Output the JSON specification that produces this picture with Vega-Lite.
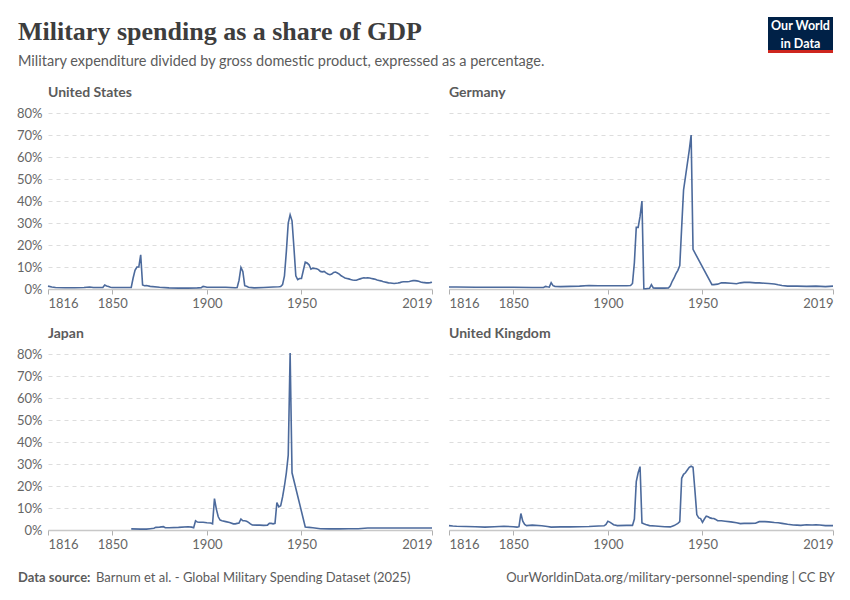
{
  "$schema": "https://vega.github.io/schema/vega-lite/v6.json",
  "background": "white",
  "padding": {"left": 16, "top": 16, "right": 10, "bottom": 5},
  "config": {
    "font": "Lato",
    "view": {"stroke": null},
    "title": {"anchor": "start", "frame": "group", "font": "Lato", "fontSize": 14, "fontWeight": "bold", "color": "#5b5b5b", "offset": 7},
    "axis": {"labelFont": "Lato", "labelFontSize": 13, "labelColor": "#666666", "title": null},
    "axisX": {"domainColor": "#c8c8c8", "domainWidth": 1.5, "tickColor": "#b0b0b0", "tickSize": 5, "labelPadding": 3, "grid": false},
    "axisY": {"domain": false, "ticks": false, "labelPadding": 6, "gridColor": "#dddddd", "gridDash": [4, 4], "gridWidth": 1}
  },
  "datasets": {
    "us": [
      {"year": 1816, "share": 1.3}, {"year": 1818, "share": 0.9}, {"year": 1820, "share": 0.7}, {"year": 1825, "share": 0.6},
      {"year": 1830, "share": 0.6}, {"year": 1835, "share": 0.7}, {"year": 1838, "share": 0.9}, {"year": 1840, "share": 0.7},
      {"year": 1845, "share": 0.7}, {"year": 1846, "share": 1.8}, {"year": 1847, "share": 1.4}, {"year": 1848, "share": 1.1},
      {"year": 1849, "share": 0.8}, {"year": 1850, "share": 0.7}, {"year": 1855, "share": 0.7}, {"year": 1860, "share": 0.7},
      {"year": 1861, "share": 5}, {"year": 1862, "share": 8.5}, {"year": 1863, "share": 10}, {"year": 1864, "share": 10},
      {"year": 1865, "share": 15.5}, {"year": 1866, "share": 1.8}, {"year": 1867, "share": 1.5}, {"year": 1868, "share": 1.6},
      {"year": 1870, "share": 1.2}, {"year": 1875, "share": 0.8}, {"year": 1880, "share": 0.5}, {"year": 1885, "share": 0.4},
      {"year": 1890, "share": 0.4}, {"year": 1895, "share": 0.5}, {"year": 1897, "share": 0.6}, {"year": 1898, "share": 1.2},
      {"year": 1899, "share": 1.0}, {"year": 1900, "share": 0.8}, {"year": 1905, "share": 0.8}, {"year": 1910, "share": 0.8},
      {"year": 1915, "share": 0.6}, {"year": 1916, "share": 0.7}, {"year": 1917, "share": 4}, {"year": 1918, "share": 9.8},
      {"year": 1919, "share": 8}, {"year": 1920, "share": 1.5}, {"year": 1921, "share": 1.2}, {"year": 1922, "share": 0.8},
      {"year": 1925, "share": 0.5}, {"year": 1930, "share": 0.7}, {"year": 1935, "share": 0.9}, {"year": 1938, "share": 1.0},
      {"year": 1939, "share": 1.1}, {"year": 1940, "share": 2}, {"year": 1941, "share": 6}, {"year": 1942, "share": 17},
      {"year": 1943, "share": 30}, {"year": 1944, "share": 33.7}, {"year": 1945, "share": 31}, {"year": 1946, "share": 19},
      {"year": 1947, "share": 6}, {"year": 1948, "share": 4.3}, {"year": 1949, "share": 4.8}, {"year": 1950, "share": 4.8},
      {"year": 1951, "share": 8.5}, {"year": 1952, "share": 12.2}, {"year": 1953, "share": 11.8}, {"year": 1954, "share": 11},
      {"year": 1955, "share": 9}, {"year": 1956, "share": 9.5}, {"year": 1957, "share": 9.3}, {"year": 1958, "share": 9.2},
      {"year": 1959, "share": 8.8}, {"year": 1960, "share": 8}, {"year": 1961, "share": 7.8}, {"year": 1962, "share": 8},
      {"year": 1963, "share": 7.3}, {"year": 1964, "share": 6.8}, {"year": 1965, "share": 6.5}, {"year": 1966, "share": 6.8},
      {"year": 1967, "share": 7.5}, {"year": 1968, "share": 7.7}, {"year": 1969, "share": 7.3}, {"year": 1970, "share": 6.8},
      {"year": 1971, "share": 6}, {"year": 1972, "share": 5.5}, {"year": 1973, "share": 5}, {"year": 1974, "share": 4.8},
      {"year": 1975, "share": 4.6}, {"year": 1976, "share": 4.3}, {"year": 1977, "share": 4.1}, {"year": 1978, "share": 4},
      {"year": 1979, "share": 4}, {"year": 1980, "share": 4.3}, {"year": 1981, "share": 4.6}, {"year": 1982, "share": 4.9},
      {"year": 1983, "share": 5.1}, {"year": 1984, "share": 5}, {"year": 1985, "share": 5.1}, {"year": 1986, "share": 5},
      {"year": 1987, "share": 4.8}, {"year": 1988, "share": 4.6}, {"year": 1989, "share": 4.4}, {"year": 1990, "share": 4.1},
      {"year": 1991, "share": 3.9}, {"year": 1992, "share": 3.7}, {"year": 1993, "share": 3.4}, {"year": 1994, "share": 3.2},
      {"year": 1995, "share": 3}, {"year": 1996, "share": 2.8}, {"year": 1997, "share": 2.7}, {"year": 1998, "share": 2.6},
      {"year": 1999, "share": 2.5}, {"year": 2000, "share": 2.6}, {"year": 2001, "share": 2.7}, {"year": 2002, "share": 2.9},
      {"year": 2003, "share": 3.2}, {"year": 2004, "share": 3.3}, {"year": 2005, "share": 3.3}, {"year": 2006, "share": 3.3},
      {"year": 2007, "share": 3.4}, {"year": 2008, "share": 3.6}, {"year": 2009, "share": 3.8}, {"year": 2010, "share": 3.8},
      {"year": 2011, "share": 3.7}, {"year": 2012, "share": 3.5}, {"year": 2013, "share": 3.2}, {"year": 2014, "share": 3},
      {"year": 2015, "share": 2.9}, {"year": 2016, "share": 2.8}, {"year": 2017, "share": 2.8}, {"year": 2018, "share": 2.9},
      {"year": 2019, "share": 3.1}
    ],
    "germany": [
      {"year": 1816, "share": 0.9}, {"year": 1820, "share": 0.9}, {"year": 1830, "share": 0.8}, {"year": 1840, "share": 0.8},
      {"year": 1850, "share": 0.8}, {"year": 1860, "share": 0.7}, {"year": 1866, "share": 0.7}, {"year": 1867, "share": 1.2},
      {"year": 1868, "share": 1.0}, {"year": 1869, "share": 0.9}, {"year": 1870, "share": 2.9}, {"year": 1871, "share": 1.5},
      {"year": 1872, "share": 1.2}, {"year": 1875, "share": 1.1}, {"year": 1880, "share": 1.2}, {"year": 1885, "share": 1.3},
      {"year": 1890, "share": 1.6}, {"year": 1895, "share": 1.5}, {"year": 1900, "share": 1.5}, {"year": 1905, "share": 1.5},
      {"year": 1910, "share": 1.5}, {"year": 1912, "share": 1.6}, {"year": 1913, "share": 2.5}, {"year": 1914, "share": 12},
      {"year": 1915, "share": 28}, {"year": 1916, "share": 28}, {"year": 1917, "share": 33}, {"year": 1918, "share": 40},
      {"year": 1919, "share": 0.1}, {"year": 1920, "share": 0.1}, {"year": 1921, "share": 0.2}, {"year": 1922, "share": 0.3},
      {"year": 1923, "share": 2}, {"year": 1924, "share": 0.5}, {"year": 1925, "share": 0.4}, {"year": 1928, "share": 0.4},
      {"year": 1930, "share": 0.4}, {"year": 1932, "share": 0.5}, {"year": 1933, "share": 1.5}, {"year": 1934, "share": 3.5},
      {"year": 1935, "share": 5}, {"year": 1936, "share": 7}, {"year": 1937, "share": 8.5}, {"year": 1938, "share": 10.7},
      {"year": 1939, "share": 28}, {"year": 1940, "share": 45}, {"year": 1941, "share": 51}, {"year": 1942, "share": 57},
      {"year": 1943, "share": 63}, {"year": 1944, "share": 70}, {"year": 1945, "share": 18}, {"year": 1955, "share": 2},
      {"year": 1956, "share": 2}, {"year": 1958, "share": 2.2}, {"year": 1960, "share": 2.8}, {"year": 1962, "share": 2.8},
      {"year": 1965, "share": 2.6}, {"year": 1968, "share": 2.4}, {"year": 1970, "share": 2.8}, {"year": 1972, "share": 3},
      {"year": 1975, "share": 3}, {"year": 1978, "share": 2.8}, {"year": 1980, "share": 2.8}, {"year": 1983, "share": 2.6},
      {"year": 1985, "share": 2.5}, {"year": 1988, "share": 2.3}, {"year": 1990, "share": 1.9}, {"year": 1992, "share": 1.6},
      {"year": 1995, "share": 1.3}, {"year": 2000, "share": 1.3}, {"year": 2005, "share": 1.2}, {"year": 2010, "share": 1.3},
      {"year": 2015, "share": 1.1}, {"year": 2019, "share": 1.3}
    ],
    "japan": [
      {"year": 1860, "share": 0.5}, {"year": 1865, "share": 0.4}, {"year": 1868, "share": 0.4}, {"year": 1870, "share": 0.6},
      {"year": 1872, "share": 0.8}, {"year": 1873, "share": 1.2}, {"year": 1875, "share": 1.3}, {"year": 1877, "share": 1.5},
      {"year": 1878, "share": 1.0}, {"year": 1880, "share": 1.0}, {"year": 1885, "share": 1.2}, {"year": 1890, "share": 1.5},
      {"year": 1892, "share": 1.3}, {"year": 1893, "share": 1.0}, {"year": 1894, "share": 4.2}, {"year": 1895, "share": 3.6},
      {"year": 1896, "share": 3.5}, {"year": 1898, "share": 3.5}, {"year": 1900, "share": 3.3}, {"year": 1902, "share": 3.2},
      {"year": 1903, "share": 2.8}, {"year": 1904, "share": 14.3}, {"year": 1905, "share": 9.5}, {"year": 1906, "share": 6},
      {"year": 1907, "share": 4.5}, {"year": 1908, "share": 4.2}, {"year": 1910, "share": 3.8}, {"year": 1912, "share": 3.4},
      {"year": 1914, "share": 2.8}, {"year": 1915, "share": 2.8}, {"year": 1916, "share": 3}, {"year": 1917, "share": 3.2},
      {"year": 1918, "share": 5}, {"year": 1919, "share": 4.2}, {"year": 1920, "share": 4.2}, {"year": 1921, "share": 4},
      {"year": 1922, "share": 3.5}, {"year": 1923, "share": 2.8}, {"year": 1924, "share": 2.3}, {"year": 1926, "share": 2.2},
      {"year": 1928, "share": 2.2}, {"year": 1930, "share": 2.1}, {"year": 1932, "share": 2.2}, {"year": 1933, "share": 3},
      {"year": 1934, "share": 3}, {"year": 1935, "share": 2.8}, {"year": 1936, "share": 3}, {"year": 1937, "share": 12.5},
      {"year": 1938, "share": 10.5}, {"year": 1939, "share": 11}, {"year": 1940, "share": 15}, {"year": 1941, "share": 20},
      {"year": 1942, "share": 26}, {"year": 1943, "share": 34}, {"year": 1944, "share": 80.5}, {"year": 1945, "share": 26},
      {"year": 1952, "share": 1.4}, {"year": 1954, "share": 1.2}, {"year": 1956, "share": 1.0}, {"year": 1958, "share": 0.8},
      {"year": 1960, "share": 0.6}, {"year": 1965, "share": 0.5}, {"year": 1970, "share": 0.5}, {"year": 1975, "share": 0.6},
      {"year": 1980, "share": 0.6}, {"year": 1985, "share": 0.9}, {"year": 1990, "share": 0.9}, {"year": 1995, "share": 0.9},
      {"year": 2000, "share": 0.9}, {"year": 2005, "share": 0.9}, {"year": 2010, "share": 0.9}, {"year": 2015, "share": 0.9},
      {"year": 2019, "share": 0.9}
    ],
    "uk": [
      {"year": 1816, "share": 2.0}, {"year": 1818, "share": 1.8}, {"year": 1820, "share": 1.7}, {"year": 1825, "share": 1.6},
      {"year": 1830, "share": 1.5}, {"year": 1835, "share": 1.3}, {"year": 1840, "share": 1.5}, {"year": 1845, "share": 1.7},
      {"year": 1850, "share": 1.5}, {"year": 1852, "share": 1.3}, {"year": 1853, "share": 1.5}, {"year": 1854, "share": 7.5},
      {"year": 1855, "share": 4}, {"year": 1856, "share": 2.5}, {"year": 1857, "share": 2}, {"year": 1860, "share": 2.2},
      {"year": 1865, "share": 1.9}, {"year": 1868, "share": 1.6}, {"year": 1870, "share": 1.3}, {"year": 1875, "share": 1.4},
      {"year": 1880, "share": 1.4}, {"year": 1885, "share": 1.5}, {"year": 1890, "share": 1.6}, {"year": 1895, "share": 1.8},
      {"year": 1898, "share": 1.9}, {"year": 1899, "share": 2.5}, {"year": 1900, "share": 4}, {"year": 1901, "share": 3.6},
      {"year": 1902, "share": 3}, {"year": 1903, "share": 2.4}, {"year": 1905, "share": 2}, {"year": 1910, "share": 2.1},
      {"year": 1913, "share": 2.1}, {"year": 1914, "share": 5}, {"year": 1915, "share": 22}, {"year": 1916, "share": 26},
      {"year": 1917, "share": 28.8}, {"year": 1918, "share": 3.2}, {"year": 1919, "share": 2.8}, {"year": 1920, "share": 2.5},
      {"year": 1922, "share": 2}, {"year": 1925, "share": 1.8}, {"year": 1930, "share": 1.5}, {"year": 1933, "share": 1.4},
      {"year": 1935, "share": 2}, {"year": 1937, "share": 3}, {"year": 1938, "share": 3.8}, {"year": 1939, "share": 23.5},
      {"year": 1940, "share": 25.3}, {"year": 1941, "share": 26}, {"year": 1942, "share": 27.3}, {"year": 1943, "share": 28.5},
      {"year": 1944, "share": 29}, {"year": 1945, "share": 28.5}, {"year": 1946, "share": 18}, {"year": 1947, "share": 7},
      {"year": 1948, "share": 5.5}, {"year": 1949, "share": 5.2}, {"year": 1950, "share": 3.5}, {"year": 1951, "share": 5},
      {"year": 1952, "share": 6.3}, {"year": 1953, "share": 6}, {"year": 1954, "share": 5.5}, {"year": 1955, "share": 5.3},
      {"year": 1956, "share": 5.2}, {"year": 1957, "share": 4.8}, {"year": 1958, "share": 4.2}, {"year": 1960, "share": 4.2},
      {"year": 1962, "share": 4}, {"year": 1965, "share": 3.7}, {"year": 1968, "share": 3.3}, {"year": 1970, "share": 2.9},
      {"year": 1972, "share": 3}, {"year": 1975, "share": 3}, {"year": 1978, "share": 3.1}, {"year": 1980, "share": 3.8},
      {"year": 1983, "share": 3.8}, {"year": 1985, "share": 3.7}, {"year": 1988, "share": 3.4}, {"year": 1990, "share": 3.3},
      {"year": 1992, "share": 3}, {"year": 1995, "share": 2.6}, {"year": 1998, "share": 2.3}, {"year": 2000, "share": 2.2},
      {"year": 2002, "share": 2.1}, {"year": 2005, "share": 2.4}, {"year": 2008, "share": 2.3}, {"year": 2010, "share": 2.4},
      {"year": 2012, "share": 2.3}, {"year": 2015, "share": 2}, {"year": 2017, "share": 2}, {"year": 2019, "share": 2}
    ]
  },
  "vconcat": [
    {
      "hconcat": [
        {
          "width": 708,
          "height": 1,
          "data": {"values": [{}]},
          "mark": {"type": "rule", "opacity": 0},
          "encoding": {},
          "title": {
            "text": "Military spending as a share of GDP",
            "subtitle": "Military expenditure divided by gross domestic product, expressed as a percentage.",
            "orient": "bottom",
            "dx": -30,
            "font": "Liberation Serif",
            "fontSize": 26,
            "fontWeight": "bold",
            "color": "#3d3d3d",
            "subtitleFont": "Lato",
            "subtitleFontSize": 14.5,
            "subtitleColor": "#5b5b5b",
            "subtitlePadding": 10,
            "offset": 1
          }
        },
        {
          "width": 65,
          "height": 36,
          "view": {"fill": "#002147", "stroke": null},
          "layer": [
            {
              "data": {"values": [{"line": "Our World"}, {"line": "in Data"}]},
              "mark": {"type": "text", "color": "white", "font": "Lato", "fontSize": 12.5, "fontWeight": "bold"},
              "encoding": {
                "y": {"field": "line", "type": "nominal", "sort": null, "axis": null, "scale": {"paddingOuter": 0.2}},
                "text": {"field": "line"}
              }
            },
            {
              "data": {"values": [{}]},
              "mark": {"type": "rule", "color": "#ce261e", "strokeWidth": 3},
              "encoding": {"y": {"datum": 0.04, "type": "quantitative", "scale": {"domain": [0, 1]}, "axis": null}}
            }
          ],
          "resolve": {"scale": {"y": "independent"}}
        }
      ],
      "spacing": 12,
      "bounds": "flush"
    },
    {
      "hconcat": [
        {
          "data": {"name": "us"},
          "width": 384,
          "height": 176,
          "title": "United States",
          "mark": {"type": "line", "color": "#4c6a9c", "strokeWidth": 1.6},
          "encoding": {
            "x": {"field": "year", "type": "quantitative", "scale": {"domain": [1816, 2019], "nice": false, "zero": false}, "axis": {"values": [1816, 1850, 1900, 1950, 2019], "format": "d"}},
            "y": {"field": "share", "type": "quantitative", "scale": {"domain": [0, 80], "nice": false}, "axis": {"values": [0, 10, 20, 30, 40, 50, 60, 70, 80], "labelExpr": "datum.value + '%'"}}
          }
        },
        {
          "data": {"name": "germany"},
          "width": 384,
          "height": 176,
          "title": {"text": "Germany", "offset": 13},
          "mark": {"type": "line", "color": "#4c6a9c", "strokeWidth": 1.6},
          "encoding": {
            "x": {"field": "year", "type": "quantitative", "scale": {"domain": [1816, 2019], "nice": false, "zero": false}, "axis": {"values": [1816, 1850, 1900, 1950, 2019], "format": "d"}},
            "y": {"field": "share", "type": "quantitative", "scale": {"domain": [0, 80], "nice": false}, "axis": {"values": [0, 10, 20, 30, 40, 50, 60, 70, 80], "labels": false}}
          }
        }
      ],
      "spacing": 17,
      "bounds": "flush"
    },
    {
      "hconcat": [
        {
          "data": {"name": "japan"},
          "width": 384,
          "height": 176,
          "title": "Japan",
          "mark": {"type": "line", "color": "#4c6a9c", "strokeWidth": 1.6},
          "encoding": {
            "x": {"field": "year", "type": "quantitative", "scale": {"domain": [1816, 2019], "nice": false, "zero": false}, "axis": {"values": [1816, 1850, 1900, 1950, 2019], "format": "d"}},
            "y": {"field": "share", "type": "quantitative", "scale": {"domain": [0, 80], "nice": false}, "axis": {"values": [0, 10, 20, 30, 40, 50, 60, 70, 80], "labelExpr": "datum.value + '%'"}}
          }
        },
        {
          "data": {"name": "uk"},
          "width": 384,
          "height": 176,
          "title": {"text": "United Kingdom", "offset": 13},
          "mark": {"type": "line", "color": "#4c6a9c", "strokeWidth": 1.6},
          "encoding": {
            "x": {"field": "year", "type": "quantitative", "scale": {"domain": [1816, 2019], "nice": false, "zero": false}, "axis": {"values": [1816, 1850, 1900, 1950, 2019], "format": "d"}},
            "y": {"field": "share", "type": "quantitative", "scale": {"domain": [0, 80], "nice": false}, "axis": {"values": [0, 10, 20, 30, 40, 50, 60, 70, 80], "labels": false}}
          }
        }
      ],
      "spacing": 17,
      "bounds": "flush"
    },
    {
      "hconcat": [
        {
          "width": 76,
          "height": 1,
          "data": {"values": [{}]},
          "mark": {"type": "rule", "opacity": 0},
          "encoding": {},
          "title": {"text": "Data source:", "orient": "bottom", "dx": -30, "fontSize": 13, "fontWeight": "bold", "color": "#5b5b5b", "offset": 2}
        },
        {
          "width": 380,
          "height": 1,
          "data": {"values": [{}]},
          "mark": {"type": "rule", "opacity": 0},
          "encoding": {},
          "title": {"text": "Barnum et al. - Global Military Spending Dataset (2025)", "orient": "bottom", "dx": -30, "fontSize": 13, "fontWeight": "normal", "color": "#5b5b5b", "offset": 2}
        },
        {
          "width": 327,
          "height": 1,
          "data": {"values": [{}]},
          "mark": {"type": "rule", "opacity": 0},
          "encoding": {},
          "title": {"text": "OurWorldinData.org/military-personnel-spending | CC BY", "orient": "bottom", "anchor": "end", "fontSize": 13, "fontWeight": "normal", "color": "#5b5b5b", "offset": 2}
        }
      ],
      "spacing": 2,
      "bounds": "flush"
    }
  ],
  "align": "none",
  "spacing": 17
}
